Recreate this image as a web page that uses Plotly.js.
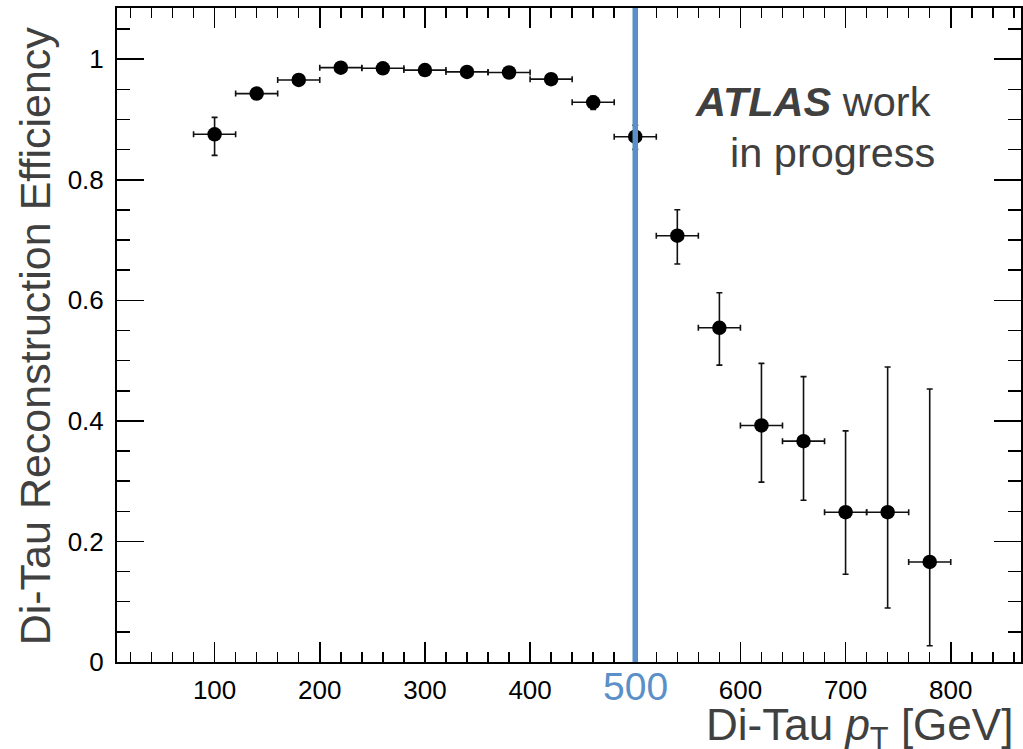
<!DOCTYPE html>
<html>
<head>
<meta charset="utf-8">
<script src="https://cdn.plot.ly/plotly-3.0.1.min.js"></script>
<style>html,body{margin:0;padding:0;background:#fff;}#plot{width:1023px;height:749px;}</style>
</head>
<body>
<div id="plot"></div>
<script>
// Bin centres (GeV) and half bin width
const ptCenters = [100,140,180,220,260,300,340,380,420,460,500,540,580,620,660,700,740,780];
const binHalfWidth = 20;
// Di-tau reconstruction efficiency
const efficiency = [0.8755,0.943,0.9656,0.986,0.985,0.982,0.979,0.978,0.967,0.9286,0.8715,0.7072,0.5545,0.3924,0.3664,0.2485,0.2485,0.166];
const errUp   = [0.028,0.008,0.006,0.004,0.004,0.004,0.005,0.005,0.007,0.010,0.019,0.043,0.058,0.103,0.107,0.135,0.241,0.287];
const errDown = [0.035,0.009,0.007,0.005,0.005,0.005,0.006,0.006,0.008,0.012,0.021,0.047,0.062,0.094,0.098,0.103,0.159,0.139];
// Axis tick labels (500 is drawn separately, in blue)
const xTickVals = [100,200,300,400,600,700,800];
const xTickText = ['100','200','300','400','600','700','800'];
const cutValue = 500;
const cutLabel = '500';

const FONT = 'Liberation Sans, Arial, Helvetica, sans-serif';
const GREY = '#404040';
const BLUE = '#5b8fc7';

const trace = {
  x: ptCenters,
  y: efficiency,
  type: 'scatter',
  mode: 'markers',
  marker: {color: '#000', size: 14.5},
  error_x: {type: 'constant', value: binHalfWidth, thickness: 1.6, width: 3, color: '#111'},
  error_y: {type: 'data', symmetric: false, array: errUp, arrayminus: errDown, thickness: 1.6, width: 3, color: '#111'},
  hoverinfo: 'skip'
};

const layout = {
  width: 1023, height: 749,
  margin: {l: 117, r: 2, t: 8, b: 87, pad: 0},
  paper_bgcolor: '#fff', plot_bgcolor: '#fff',
  showlegend: false,
  font: {family: FONT, color: '#000'},
  xaxis: {
    range: [7.2, 866.8],
    tickmode: 'array', tickvals: xTickVals, ticktext: xTickText,
    ticks: 'inside', ticklen: 20, tickwidth: 1.5, tickcolor: '#000',
    minor: {ticks: 'inside', ticklen: 10, tickwidth: 1.5, tickcolor: '#000', dtick: 20, tick0: 0, showgrid: false},
    showline: true, linewidth: 2, linecolor: '#000', mirror: 'allticks',
    showgrid: false, zeroline: false,
    tickfont: {family: FONT, size: 26, color: '#000'},
    ticklabelstandoff: 4
  },
  yaxis: {
    range: [0, 1.085],
    tickmode: 'linear', tick0: 0, dtick: 0.2,
    ticks: 'inside', ticklen: 27, tickwidth: 1.5, tickcolor: '#000',
    minor: {ticks: 'inside', ticklen: 13, tickwidth: 1.5, tickcolor: '#000', dtick: 0.05, tick0: 0, showgrid: false},
    showline: true, linewidth: 2, linecolor: '#000', mirror: 'allticks',
    showgrid: false, zeroline: false,
    tickfont: {family: FONT, size: 26, color: '#000'},
    ticklabelstandoff: 6
  },
  shapes: [{
    type: 'line', xref: 'x', yref: 'paper', x0: cutValue, x1: cutValue, y0: 0, y1: 1,
    line: {color: BLUE, width: 5.5}, layer: 'above'
  }],
  annotations: [
    {text: cutLabel, xref: 'x', yref: 'paper', x: cutValue, y: -0.037, xanchor: 'center', yanchor: 'middle',
     showarrow: false, font: {family: FONT, size: 39, color: BLUE}},
    {text: 'Di-Tau <i>p</i><sub>T</sub> [GeV]', xref: 'paper', yref: 'paper', x: 0.9934, y: -0.101,
     xanchor: 'right', yanchor: 'middle', showarrow: false, font: {family: FONT, size: 44, color: GREY}},
    {text: 'Di-Tau Reconstruction Efficiency', xref: 'paper', yref: 'paper', x: -0.0907, y: 0.498,
     xanchor: 'center', yanchor: 'middle', textangle: -90, showarrow: false, font: {family: FONT, size: 43, color: GREY}},
    {text: '<b><i>ATLAS</i></b> work', xref: 'paper', yref: 'paper', x: 0.637, y: 0.857,
     xanchor: 'left', yanchor: 'middle', showarrow: false, font: {family: FONT, size: 41.5, color: GREY}},
    {text: 'in progress', xref: 'paper', yref: 'paper', x: 0.676, y: 0.7795,
     xanchor: 'left', yanchor: 'middle', showarrow: false, font: {family: FONT, size: 41.5, color: GREY}}
  ]
};

Plotly.newPlot('plot', [trace], layout, {staticPlot: true, displayModeBar: false});
</script>
</body>
</html>
